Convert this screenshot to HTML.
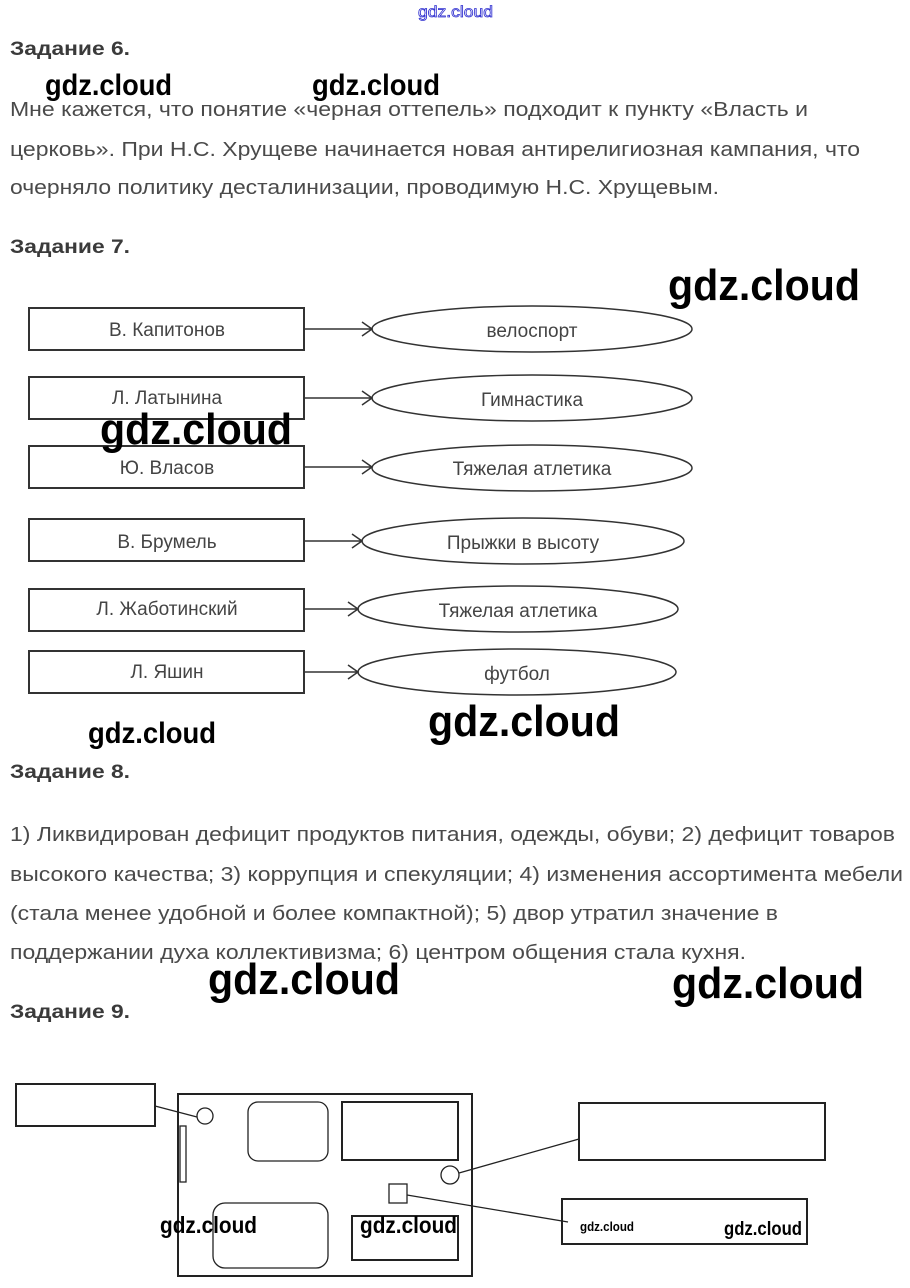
<!DOCTYPE html>
<html><head><meta charset="utf-8"><style>
html,body{margin:0;padding:0;background:#fff;}
svg{display:block}
.t{font-family:"Liberation Sans",sans-serif;font-size:20px;fill:#4a4a4a}
.h{font-family:"Liberation Sans",sans-serif;font-size:19px;font-weight:bold;fill:#3a3a3a}
.l{font-family:"Liberation Sans",sans-serif;font-size:19px;fill:#444}
.w{font-family:"Liberation Sans",sans-serif;fill:#000;font-weight:bold}
</style></head><body>
<svg width="910" height="1288" viewBox="0 0 910 1288" xmlns="http://www.w3.org/2000/svg">
<text x="418" y="17" font-family="Liberation Sans,sans-serif" font-size="16" fill="#fff" stroke="#3030d0" stroke-width="0.8" textLength="75" lengthAdjust="spacingAndGlyphs">gdz.cloud</text>

<text class="h" x="10" y="55" textLength="120" lengthAdjust="spacingAndGlyphs">Задание 6.</text>
<text class="w" x="45" y="95" font-size="30" textLength="127" lengthAdjust="spacingAndGlyphs">gdz.cloud</text>
<text class="w" x="312" y="95" font-size="30" textLength="128" lengthAdjust="spacingAndGlyphs">gdz.cloud</text>
<text class="t" x="10" y="116" textLength="798" lengthAdjust="spacingAndGlyphs">Мне кажется, что понятие «черная оттепель» подходит к пункту «Власть и</text>
<text class="t" x="10" y="156" textLength="850" lengthAdjust="spacingAndGlyphs">церковь». При Н.С. Хрущеве начинается новая антирелигиозная кампания, что</text>
<text class="t" x="10" y="194" textLength="709" lengthAdjust="spacingAndGlyphs">очерняло политику десталинизации, проводимую Н.С. Хрущевым.</text>
<text class="h" x="10" y="253" textLength="120" lengthAdjust="spacingAndGlyphs">Задание 7.</text>

<g fill="none" stroke="#333" stroke-width="2">
<rect x="29" y="308" width="275" height="42"/>
<rect x="29" y="377" width="275" height="42"/>
<rect x="29" y="446" width="275" height="42"/>
<rect x="29" y="519" width="275" height="42"/>
<rect x="29" y="589" width="275" height="42"/>
<rect x="29" y="651" width="275" height="42"/>
</g>
<g fill="none" stroke="#333" stroke-width="1.5">
<ellipse cx="532" cy="329" rx="160" ry="23"/>
<ellipse cx="532" cy="398" rx="160" ry="23"/>
<ellipse cx="532" cy="468" rx="160" ry="23"/>
<ellipse cx="523" cy="541" rx="161" ry="23"/>
<ellipse cx="518" cy="609" rx="160" ry="23"/>
<ellipse cx="517" cy="672" rx="159" ry="23"/>
<path d="M304 329H372M362 322L372 329L362 336"/>
<path d="M304 398H372M362 391L372 398L362 405"/>
<path d="M304 467H372M362 460L372 467L362 474"/>
<path d="M304 541H362M352 534L362 541L352 548"/>
<path d="M304 609H358M348 602L358 609L348 616"/>
<path d="M304 672H358M348 665L358 672L348 679"/>
</g>
<g text-anchor="middle">
<text class="l" x="167" y="336">В. Капитонов</text>
<text class="l" x="167" y="404">Л. Латынина</text>
<text class="l" x="167" y="474">Ю. Власов</text>
<text class="l" x="167" y="548">В. Брумель</text>
<text class="l" x="167" y="615">Л. Жаботинский</text>
<text class="l" x="167" y="678">Л. Яшин</text>
<text class="l" x="532" y="337">велоспорт</text>
<text class="l" x="532" y="406">Гимнастика</text>
<text class="l" x="532" y="475">Тяжелая атлетика</text>
<text class="l" x="523" y="549">Прыжки в высоту</text>
<text class="l" x="518" y="617">Тяжелая атлетика</text>
<text class="l" x="517" y="680">футбол</text>
</g>
<text class="w" x="668" y="300" font-size="44" textLength="192" lengthAdjust="spacingAndGlyphs">gdz.cloud</text>
<text class="w" x="100" y="444" font-size="44" textLength="192" lengthAdjust="spacingAndGlyphs">gdz.cloud</text>
<text class="w" x="88" y="743" font-size="30" textLength="128" lengthAdjust="spacingAndGlyphs">gdz.cloud</text>
<text class="w" x="428" y="736" font-size="44" textLength="192" lengthAdjust="spacingAndGlyphs">gdz.cloud</text>

<text class="h" x="10" y="778" textLength="120" lengthAdjust="spacingAndGlyphs">Задание 8.</text>
<text class="t" x="10" y="841" textLength="885" lengthAdjust="spacingAndGlyphs">1) Ликвидирован дефицит продуктов питания, одежды, обуви; 2) дефицит товаров</text>
<text class="t" x="10" y="881" textLength="893" lengthAdjust="spacingAndGlyphs">высокого качества; 3) коррупция и спекуляции; 4) изменения ассортимента мебели</text>
<text class="t" x="10" y="920" textLength="768" lengthAdjust="spacingAndGlyphs">(стала менее удобной и более компактной); 5) двор утратил значение в</text>
<text class="t" x="10" y="959" textLength="736" lengthAdjust="spacingAndGlyphs">поддержании духа коллективизма; 6) центром общения стала кухня.</text>
<text class="w" x="208" y="994" font-size="44" textLength="192" lengthAdjust="spacingAndGlyphs">gdz.cloud</text>
<text class="w" x="672" y="998" font-size="44" textLength="192" lengthAdjust="spacingAndGlyphs">gdz.cloud</text>
<text class="h" x="10" y="1018" textLength="120" lengthAdjust="spacingAndGlyphs">Задание 9.</text>

<g fill="none" stroke="#222" stroke-width="2">
<rect x="16" y="1084" width="139" height="42"/>
<rect x="178" y="1094" width="294" height="182"/>
<rect x="579" y="1103" width="246" height="57"/>
<rect x="562" y="1199" width="245" height="45"/>
<rect x="342" y="1102" width="116" height="58"/>
<rect x="352" y="1216" width="106" height="44"/>
</g>
<g fill="none" stroke="#222" stroke-width="1.3">
<circle cx="205" cy="1116" r="8"/>
<circle cx="450" cy="1175" r="9"/>
<rect x="180" y="1126" width="6" height="56"/>
<rect x="248" y="1102" width="80" height="59" rx="10"/>
<rect x="213" y="1203" width="115" height="65" rx="12"/>
<rect x="389" y="1184" width="18" height="19"/>
<path d="M155 1106L197 1117"/>
<path d="M459 1173L579 1139"/>
<path d="M407 1195L568 1222"/>
</g>
<text class="w" x="160" y="1233" font-size="23" textLength="97" lengthAdjust="spacingAndGlyphs">gdz.cloud</text>
<text class="w" x="360" y="1233" font-size="23" textLength="97" lengthAdjust="spacingAndGlyphs">gdz.cloud</text>
<text class="w" x="580" y="1231" font-size="13" font-weight="normal" textLength="54" lengthAdjust="spacingAndGlyphs">gdz.cloud</text>
<text class="w" x="724" y="1235" font-size="19" textLength="78" lengthAdjust="spacingAndGlyphs">gdz.cloud</text>
</svg>
</body></html>
